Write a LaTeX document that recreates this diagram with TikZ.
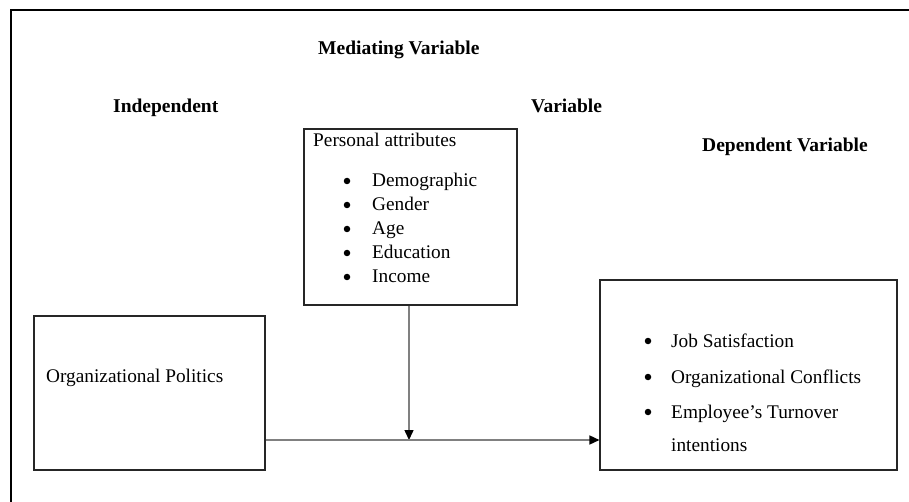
\documentclass[tikz,border=0pt]{standalone}
\usepackage{fontspec}
\setmainfont{Liberation Serif}
\usetikzlibrary{arrows.meta, positioning}

\begin{document}
\begin{tikzpicture}[x=1pt, y=-1pt, >={Triangle[black, length=10pt, width=9pt]},
		every node/.style={inner sep=0pt, anchor=base west, font=\fontsize{19.3}{23}\selectfont},
		head/.style={font=\fontsize{19.5}{23}\selectfont\bfseries},
		box/.style={draw=black!85, line width=1.1pt, anchor=center},
		dot/.style={circle, fill=black, minimum size=6.5pt, anchor=center},
		link/.style={->, draw=black!50, line width=1.5pt}]
		\useasboundingbox (0,0) rectangle (909,502);
		\draw[line width=2pt] (11,502) -- (11,10) -- (909,10);
		
		\node[head] (medhead) at (318,55) {Mediating Variable};
		\node[head] (indhead) at (113,113) {Independent};
		\node[head] (varhead) at (531,113) {Variable};
		\node[head] (dephead) at (702,152) {Dependent Variable};
		
		% boxes
		\node[box, minimum width=231pt, minimum height=154pt] (indep) at (149.5,393) {};
		\node[box, minimum width=213pt, minimum height=176pt] (med) at (410.5,217) {};
		\node[box, minimum width=297pt, minimum height=190pt] (dep) at (748.5,375) {};
		
		\node (pol) at (46,382) {Organizational Politics};
		
		\node (attr) at (313,147) {Personal attributes};
		\node[dot] (b1) at (347,181) {};
		\node (demo) at (372,187) {Demographic};
		\node[dot] (b2) at (347,205) {};
		\node (gend) at (372,211) {Gender};
		\node[dot] (b3) at (347,229) {};
		\node (age) at (372,235) {Age};
		\node[dot] (b4) at (347,253) {};
		\node (educ) at (372,259) {Education};
		\node[dot] (b5) at (347,277) {};
		\node (inc) at (372,283) {Income};
		
		\node[dot] (b6) at (648,341) {};
		\node (job) at (671,347) {Job Satisfaction};
		\node[dot] (b7) at (648,377) {};
		\node (conf) at (671,383) {Organizational Conflicts};
		\node[dot] (b8) at (648,412) {};
		\node (turn) at (671,418) {Employee’s Turnover};
		\node (intn) at (671,451) {intentions};
		
		% connectors
		\coordinate (meet) at (409,440);
		\draw[link] (med.south -| meet) -- (meet);
		\draw[link] (indep.east |- meet) -- (dep.west |- meet);
	\end{tikzpicture}
\end{document}
